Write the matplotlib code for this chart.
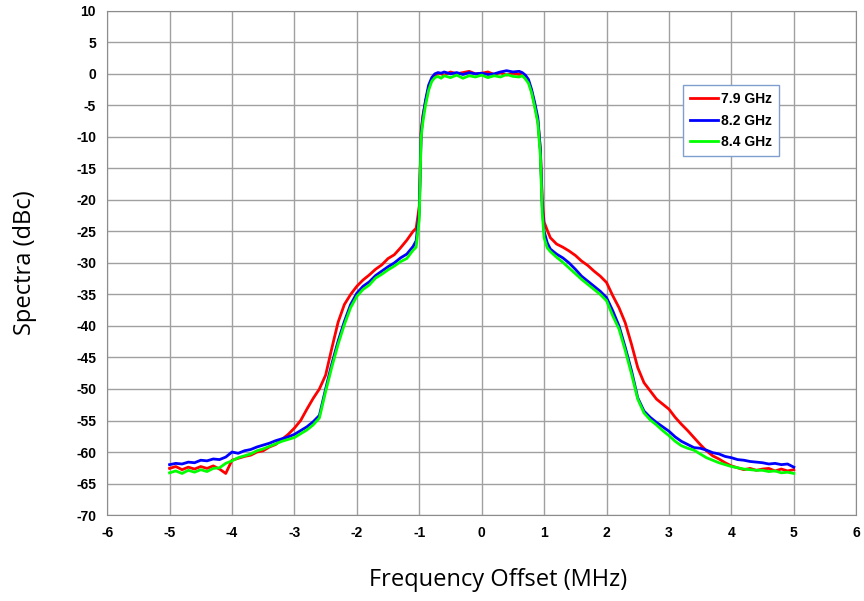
import numpy as np
from matplotlib import pyplot as plt

plt.rcParams['axes.unicode_minus'] = False

# x grid (MHz)
x_left = np.round(np.linspace(-5.0, -1.1, 40), 2)
x_mid = [-1.05, -1.0, -0.97, -0.94, -0.9, -0.85, -0.8, -0.75, -0.7, -0.65,
         -0.6, -0.5, -0.4, -0.3, -0.2, -0.1, 0.0, 0.1, 0.2, 0.3, 0.4, 0.5, 0.6,
         0.65, 0.7, 0.75, 0.8, 0.85, 0.9, 0.94, 0.97, 1.0, 1.05]
x_right = np.round(np.linspace(1.1, 5.0, 40), 2)

labels = ['7.9 GHz', '8.2 GHz', '8.4 GHz']

red_left = [-62.6, -62.3, -62.8, -62.4, -62.7, -62.3, -62.6, -62.2, -62.7, -63.4,
            -61.3, -61.0, -60.7, -60.5, -60.0, -59.8, -59.2, -58.8, -58.0, -57.2,
            -56.2, -55.0, -53.2, -51.5, -50.0, -47.8, -43.5, -39.4, -36.6, -35.0,
            -33.7, -32.7, -31.9, -31.0, -30.3, -29.3, -28.7, -27.6, -26.4, -25.0]
red_mid = [-24.5, -21.0, -9.0, -6.5, -4.5, -2.2, -1.0, -0.3, 0.1, 0.0,
           -0.2, 0.3, 0.0, 0.2, 0.4, 0.0, 0.1, 0.3, -0.1, 0.2, -0.2, 0.1, -0.1,
           0.0, -0.5, -1.2, -2.8, -5.0, -7.5, -12.0, -20.0, -23.5, -24.8]
red_right = [-26.0, -27.0, -27.5, -28.1, -28.8, -29.7, -30.4, -31.3, -32.1, -33.1,
             -35.2, -37.1, -39.5, -42.9, -46.6, -49.0, -50.3, -51.6, -52.4, -53.2,
             -54.5, -55.6, -56.6, -57.7, -58.8, -59.8, -60.6, -61.1, -61.7, -62.2,
             -62.5, -62.8, -62.6, -62.9, -62.7, -62.6, -63.0, -62.7, -63.0, -62.8]

blue_left = [-62.0, -61.8, -61.9, -61.6, -61.7, -61.3, -61.4, -61.1, -61.2, -60.8,
             -60.0, -60.2, -59.8, -59.6, -59.2, -58.9, -58.6, -58.2, -57.9, -57.6,
             -57.2, -56.6, -56.0, -55.2, -54.2, -50.0, -46.0, -42.4, -39.3, -36.6,
             -34.8, -33.7, -33.0, -32.0, -31.3, -30.6, -30.0, -29.2, -28.6, -27.4]
blue_mid = [-26.5, -22.0, -9.5, -6.8, -4.2, -1.8, -0.6, 0.0, 0.2, 0.1,
            0.3, 0.0, 0.2, -0.1, 0.2, 0.0, 0.1, -0.1, 0.0, 0.3, 0.5, 0.3, 0.4,
            0.2, -0.2, -0.9, -2.5, -4.6, -7.0, -12.0, -21.0, -25.0, -26.8]
blue_right = [-27.8, -28.6, -29.2, -30.0, -31.0, -32.1, -32.9, -33.7, -34.5, -35.5,
              -37.6, -40.0, -43.4, -47.1, -51.4, -53.5, -54.5, -55.3, -56.0, -56.7,
              -57.6, -58.3, -58.8, -59.3, -59.4, -59.7, -60.1, -60.3, -60.7, -60.9,
              -61.2, -61.3, -61.5, -61.6, -61.7, -61.9, -61.8, -62.0, -61.9, -62.4]

green_left = [-63.3, -63.0, -63.4, -62.9, -63.2, -62.8, -63.1, -62.6, -62.5, -61.8,
              -61.4, -60.9, -60.6, -60.3, -59.8, -59.5, -59.1, -58.7, -58.3, -58.0,
              -57.7, -57.1, -56.5, -55.7, -54.6, -50.4, -46.5, -42.9, -39.8, -37.1,
              -35.3, -34.2, -33.5, -32.4, -31.8, -31.1, -30.5, -29.8, -29.3, -28.0]
green_mid = [-27.5, -23.0, -10.0, -7.5, -5.0, -2.6, -1.2, -0.6, -0.4, -0.7,
             -0.3, -0.6, -0.2, -0.7, -0.3, -0.5, -0.2, -0.6, -0.3, -0.5, -0.1, -0.4, -0.5,
             -0.3, -0.8, -1.5, -3.0, -5.3, -7.8, -13.0, -22.0, -26.0, -27.6]
green_right = [-28.2, -29.1, -29.9, -30.8, -31.7, -32.6, -33.4, -34.2, -35.0, -36.0,
               -38.4, -40.5, -43.9, -47.6, -51.6, -53.8, -54.9, -55.7, -56.6, -57.4,
               -58.3, -59.0, -59.4, -59.7, -60.3, -60.9, -61.3, -61.7, -62.0, -62.3,
               -62.5, -62.7, -62.8, -62.9, -62.9, -63.1, -63.0, -63.3, -63.2, -63.4]

x = np.concatenate([x_left, x_mid, x_right])
series = [
    (red_left + red_mid + red_right, '#ff0000'),
    (blue_left + blue_mid + blue_right, '#0000ff'),
    (green_left + green_mid + green_right, '#00ff00'),
]

fig = plt.figure(figsize=(8.64, 6.01), dpi=100)
ax = fig.add_axes([0.124, 0.143, 0.867, 0.839])

for (y, color), label in zip(series, labels):
    ax.plot(x, y, color=color, lw=2.0, label=label)

ax.set_xlim(-6, 6)
ax.set_ylim(-70, 10)
ax.set_xticks(range(-6, 7))
ax.set_yticks(range(-70, 11, 5))
ax.grid(True, color='#a0a0a0', lw=1.0)
ax.set_axisbelow(True)
for s in ax.spines.values():
    s.set_color('#8c8c8c')
ax.tick_params(length=0, pad=8)
for t in ax.get_xticklabels() + ax.get_yticklabels():
    t.set_fontweight('bold')
    t.set_fontsize(10)
    t.set_fontfamily('Liberation Sans')

ax.set_xlabel('Frequency Offset (MHz)', fontsize=17, family='Open Sans', va='center')
ax.set_ylabel('Spectra (dBc)', fontsize=17, family='Open Sans', va='center')
ax.xaxis.set_label_coords(0.522, -0.129)
ax.yaxis.set_label_coords(-0.11, 0.5)

leg = ax.legend(loc='upper left', bbox_to_anchor=(0.769, 0.853), fancybox=False,
                prop={'family': 'Liberation Sans', 'weight': 'bold', 'size': 10},
                handlelength=2.0, handletextpad=0.25, labelspacing=0.55,
                borderpad=0.5, borderaxespad=0, framealpha=1)
leg.get_frame().set_edgecolor('#7f9fcf')
leg.get_frame().set_linewidth(1.0)

fig.savefig('out.png', dpi=100)
